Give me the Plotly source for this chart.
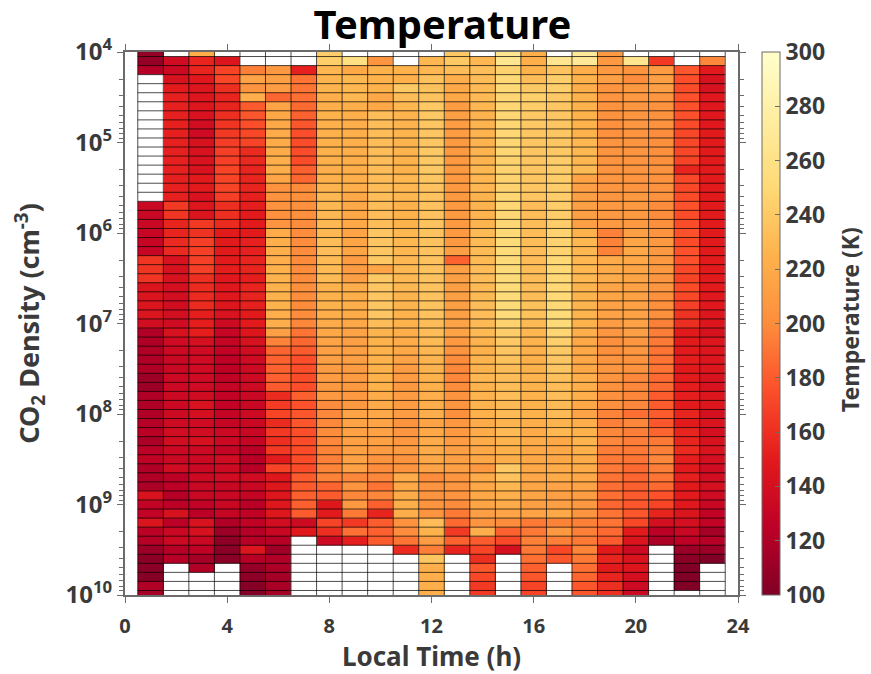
import numpy as np
import plotly.graph_objects as go

N = None
local_time_edges = [h + 0.5 for h in range(0, 24)]
log_density_edges = [3.95 + 0.1 * k for k in range(0, 62)]
density_ticks = [4, 5, 6, 7, 8, 9, 10]
time_ticks = [0, 4, 8, 12, 16, 20, 24]
temp_ticks = [100, 120, 140, 160, 180, 200, 220, 240, 260, 280, 300]

t01 = [108,108,122,N,N,N,N,N,N,N, N,N,N,N,N,N,N,133,133,133, 131,131,131,163,163,163,145,145,145,145, 138,120,120,120,120,120,112,112,120,120, 120,122,124,118,125,127,120,120,118,143, 128,128,145,125,122,112,105,104,103,120,116]
t02 = [N,137,134,142,150,153,153,153,153,153, 153,153,153,153,153,153,153,165,163,155, 155,157,157,142,142,142,140,139,138,139, 137,142,136,134,133,133,134,134,134,134, 135,135,138,138,134,133,137,125,125,122, 125,142,125,133,134,122,122,N,N,N,N]
t03 = [222,155,155,148,146,146,146,143,138,136, 142,143,143,143,150,150,143,146,145,165, 162,168,168,168,168,160,158,158,158,152, 152,152,140,136,136,136,136,136,137,143, 140,136,138,141,134,134,133,135,133,133, 128,125,143,141,133,127,115,120,N,N,N]
t04 = [N,145,170,172,160,155,155,160,163,165, 167,168,168,170,170,170,168,160,160,158, 150,150,150,150,152,148,148,148,146,143, 135,131,130,128,126,126,127,130,128,128, 129,130,134,134,130,137,135,137,132,133, 132,130,120,112,106,104,104,N,N,N,N]
t05 = [N,N,195,215,205,222,180,178,175,172, 170,158,157,155,155,155,153,152,150,150, 150,153,153,155,155,152,155,155,153,150, 150,146,142,137,136,135,135,135,133,133, 135,133,133,130,124,123,123,137,133,130, 124,127,127,122,122,145,123,108,106,103,102]
t06 = [N,N,208,212,210,185,215,218,219,220, 220,220,222,222,216,204,204,204,203,205, 220,222,222,222,224,225,225,225,225,222, 222,212,196,184,183,183,182,180,158,166, 170,158,165,160,165,150,170,147,147,146, 147,147,138,132,122,113,120,118,115,117,115]
t07 = [N,N,153,190,190,188,186,183,178,175, 174,174,174,182,185,200,202,202,202,200, 200,200,200,200,200,200,202,201,200,200, 198,190,185,180,175,175,174,175,182,176, 178,178,175,174,174,174,174,180,180,182, 182,180,135,148,N,N,N,N,N,N,N]
t08 = [243,243,228,226,226,222,222,225,224,224, 224,224,224,222,224,226,229,229,229,229, 229,232,232,230,230,230,225,225,225,222, 220,218,215,212,212,210,210,208,208,200, 198,198,200,198,196,195,197,196,184,180, 147,150,170,160,135,N,N,N,N,N,N]
t09 = [N,258,218,228,228,228,222,222,222,222, 222,222,222,222,222,222,218,218,218,218, 215,216,216,210,210,212,222,222,222,220, 218,215,212,212,212,210,210,208,208,208, 215,215,214,213,213,214,214,198,205,198, 208,192,165,188,152,N,N,N,N,N,N]
t10 = [N,205,225,225,225,218,218,232,232,232, 232,232,232,232,232,232,232,232,232,232, 238,238,238,240,216,240,238,238,238,238, 232,226,225,225,225,225,225,225,220,220, 218,215,214,213,210,205,200,198,190,198, 182,155,181,182,180,N,N,N,N,N,N]
t11 = [N,N,225,224,240,232,228,226,226,226, 226,226,225,225,228,228,228,225,225,225, 228,228,228,229,229,229,229,226,226,225, 225,222,220,218,215,210,210,208,210,210, 210,205,206,207,210,205,205,220,218,220, 222,222,204,200,190,158,N,N,N,N,N]
t12 = [N,228,228,235,235,236,240,240,238,238, 238,240,240,240,238,236,236,236,236,236, 236,236,236,236,236,236,236,236,236,236, 232,232,230,228,226,226,225,224,222,222, 222,215,218,220,220,218,215,200,205,205, 205,205,232,225,210,194,237,222,222,222,222]
t13 = [240,240,232,222,218,218,210,212,210,210, 208,208,208,208,208,208,208,208,208,208, 208,208,212,183,212,212,212,212,212,212, 215,215,208,205,200,198,198,200,205,205, 202,207,208,210,212,212,212,206,206,205, 200,192,186,165,183,155,N,N,N,N,N]
t14 = [N,228,233,232,230,230,228,226,226,226, 226,226,226,228,228,228,226,226,226,226, 230,230,230,230,232,232,230,230,232,232, 230,230,226,224,226,226,228,226,226,226, 224,220,220,220,218,218,208,220,218,218, 216,212,205,222,180,170,160,178,172,165,165]
t15 = [265,265,246,250,250,248,248,248,248,248, 248,248,246,246,246,246,248,248,248,248, 250,252,252,252,252,252,252,252,252,252, 246,242,240,238,235,232,232,232,232,230, 230,226,230,226,224,222,240,236,228,222, 220,215,200,183,172,140,N,N,N,N,N]
t16 = [222,222,225,232,240,244,242,240,240,238, 238,238,238,238,238,238,238,232,232,232, 232,232,232,232,232,232,232,232,235,235, 230,228,226,224,224,225,226,225,225,225, 225,222,220,220,218,218,218,218,216,216, 212,215,192,192,195,192,188,182,178,170,170]
t17 = [N,265,236,243,243,240,238,238,238,238, 238,240,242,242,242,242,242,242,242,242, 246,246,246,250,250,250,250,250,250,252, 252,248,244,240,238,238,234,232,232,230, 230,226,228,218,218,218,220,220,215,212, 212,218,196,208,195,172,178,N,N,N,N]
t18 = [270,270,222,225,222,225,225,225,225,225, 228,228,228,230,215,212,212,212,212,212, 225,228,228,228,228,228,226,226,226,226, 225,222,218,218,218,218,222,222,222,218, 215,222,225,226,224,220,220,218,215,210, 208,205,195,195,192,197,192,188,184,178,178]
t19 = [208,208,208,212,205,205,204,204,203,203, 205,205,205,205,206,206,206,208,208,208, 195,196,196,220,220,220,216,216,214,214, 210,206,202,202,205,206,205,203,203,203, 196,195,198,198,194,193,193,190,188,188, 185,190,190,186,180,150,155,150,155,160,160]
t20 = [N,265,205,200,208,208,206,206,206,205, 205,205,205,205,205,205,208,208,208,208, 212,216,218,218,216,216,214,214,214,214, 214,212,206,206,204,204,198,198,198,198, 188,198,194,194,192,190,186,184,182,180, 178,178,172,150,145,135,144,146,140,135,135]
t21 = [N,165,210,212,212,206,204,204,204,200, 202,202,202,204,204,204,204,200,200,202, 205,208,208,208,208,206,206,203,202,202, 195,194,192,190,190,190,186,186,180,180, 180,178,184,192,195,198,194,190,186,176, 170,155,140,125,118,N,N,N,N,N,N]
t22 = [N,N,178,175,174,176,176,176,174,172, 172,172,170,155,172,172,174,176,174,174, 176,174,176,176,172,170,174,172,168,162, 160,150,150,150,152,150,150,152,152,150, 155,150,155,155,158,152,150,153,150,150, 148,145,140,133,125,112,105,100,100,100,N]
t23 = [N,198,150,142,142,148,148,148,148,150, 150,150,150,150,150,150,150,150,150,150, 150,150,150,150,150,150,150,148,148,146, 146,142,146,146,146,146,143,143,146,146, 140,144,140,142,144,140,137,138,140,136, 132,128,128,115,122,112,100,N,N,N,N]

columns = [t01,t02,t03,t04,t05,t06,t07,t08,t09,t10,t11,t12,t13,t14,t15,t16,t17,t18,t19,t20,t21,t22,t23]
for i, c in enumerate(columns):
    assert len(c) == 61, (i + 1, len(c))
z = np.array(columns, dtype=float).T
y_edges = [10 ** e for e in log_density_edges]

colors = ["#800026","#bd0026","#e31a1c","#fc4e2a","#fd8d3c","#feb24c","#fed976","#ffeda0","#ffffcc"]
scale = [[i / 8, c] for i, c in enumerate(colors)]
INK = "#3a3a3a"
AXIS = "#6b6b6b"
FONT = "Noto Sans"

fig = go.Figure()
fig.add_trace(go.Heatmap(
    x=local_time_edges, y=y_edges, z=z, zmin=100, zmax=300, colorscale=scale,
    hoverongaps=False,
    colorbar=dict(
        x=1.0392, xanchor="left", y=0.5, yanchor="middle", len=1, lenmode="fraction",
        thickness=18, thicknessmode="pixels", xpad=0, ypad=0,
        outlinecolor=AXIS, outlinewidth=1,
        ticks="inside", ticklen=5, tickcolor=AXIS, tickvals=temp_ticks, tickprefix="\u2009",
        tickfont=dict(family=FONT, size=23, color=INK, weight="bold"),
    ),
))

gx, gy = [], []
for ye in y_edges:
    gx += [local_time_edges[0], local_time_edges[-1], None]
    gy += [ye, ye, None]
for xe in local_time_edges:
    gx += [xe, xe, None]
    gy += [y_edges[0], y_edges[-1], None]
fig.add_trace(go.Scatter(x=gx, y=gy, mode="lines", hoverinfo="skip", showlegend=False,
                         line=dict(color="rgba(0,0,0,0.7)", width=1)))

minor_vals = [m * 10 ** d for d in range(4, 10) for m in range(2, 10)]
fig.update_layout(
    width=871, height=674, autosize=False,
    margin=dict(l=125, r=133, t=52, b=79, pad=0),
    paper_bgcolor="white", plot_bgcolor="white",
    title=dict(text="Temperature", x=0.508, xanchor="center", y=0.963, yanchor="middle",
               font=dict(family=FONT, size=40, color="black", weight="bold")),
    annotations=[dict(text="Temperature (K)", xref="paper", yref="paper", x=1.1827, y=0.508,
                      xanchor="center", yanchor="middle", textangle=-90, showarrow=False,
                      font=dict(family=FONT, size=23, color=INK, weight="bold"))],
    xaxis=dict(range=[0, 24], tickmode="array", tickvals=time_ticks, ticks="outside", ticklen=6,
               tickcolor=AXIS, linecolor=AXIS, linewidth=2, mirror="allticks", showgrid=False, zeroline=False,
               automargin=False, ticklabelstandoff=6,
               tickfont=dict(family=FONT, size=20, color=INK, weight="bold"),
               title=dict(text="Local Time (h)", standoff=9,
                          font=dict(family=FONT, size=26, color=INK, weight="bold"))),
    yaxis=dict(type="log", range=[10, 4], tickmode="array", automargin=False,
               tickvals=[10 ** d for d in density_ticks],
               ticktext=[f"10<sup>{d}</sup>" for d in density_ticks],
               ticks="outside", ticklen=6, tickcolor=AXIS, linecolor=AXIS, linewidth=2,
               mirror="allticks", showgrid=False, zeroline=False,
               tickfont=dict(family=FONT, size=24, color=INK, weight="bold"),
               minor=dict(tickmode="array", tickvals=minor_vals, ticks="outside", ticklen=4, tickcolor=AXIS, showgrid=False),
               title=dict(text="CO<sub>2</sub> Density (cm<sup>-3</sup>)", standoff=18,
                          font=dict(family=FONT, size=27, color=INK, weight="bold"))),
)
fig.write_html("out.html", post_script="document.body.style.margin='0';", config={"displayModeBar": False})
